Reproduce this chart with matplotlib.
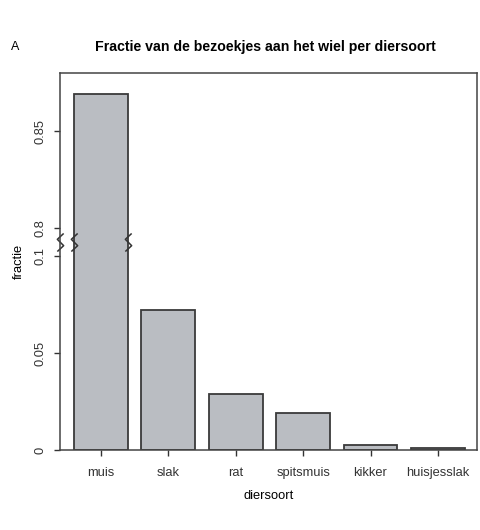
import matplotlib.pyplot as plt
import numpy as np
from matplotlib.path import Path

plt.rcParams['font.family'] = ['Liberation Sans', 'DejaVu Sans']

# data
diersoort = ['muis', 'slak', 'rat', 'spitsmuis', 'kikker', 'huisjesslak']
fractie = [0.869, 0.072, 0.029, 0.019, 0.0024, 0.0012]
yticks = [0, 0.05, 0.1, 0.8, 0.85]
yticklabels = ['0', '0.05', '0.1', '0.8', '0.85']

# broken y axis: 0.1 .. 0.8 squeezed into a small gap
LOW, HIGH, GAP = 0.1, 0.8, 0.0144


def fwd(y):
    y = np.asarray(y, dtype=float)
    mid = LOW + (y - LOW) / (HIGH - LOW) * GAP
    return np.where(y <= LOW, y, np.where(y < HIGH, mid, y - (HIGH - LOW) + GAP))


def inv(t):
    t = np.asarray(t, dtype=float)
    mid = LOW + (t - LOW) / GAP * (HIGH - LOW)
    return np.where(t <= LOW, t, np.where(t < LOW + GAP, mid, t + (HIGH - LOW) - GAP))


fig = plt.figure(figsize=(4.8, 5.3), dpi=100)
ax = fig.add_axes([60 / 480, 1 - 450 / 530, 417 / 480, 377 / 530])
ax.set_yscale('function', functions=(fwd, inv))

x = np.arange(len(diersoort))
ax.bar(x, fractie, width=0.8, color='#babdc2', edgecolor='#3a3a3a', linewidth=1.3)

ax.set_xlim(-0.608, 5.58)
ax.set_ylim(0, 0.88)
ax.set_yticks(yticks)
ax.set_yticklabels(yticklabels, rotation=90, va='center', fontsize=9.3)
ax.set_xticks(x)
ax.set_xticklabels(diersoort, fontsize=9.3)
ax.tick_params(direction='out', length=4, width=1, colors='#333333', pad=6)
ax.tick_params(axis='x', pad=8)

for s in ax.spines.values():
    s.set_color('#444444')
    s.set_linewidth(1.1)

# zigzag break marks
zig = Path([(-0.35, -1), (0.35, -0.35), (-0.35, 0.35), (0.35, 1)])
ybreak = 0.45
ax.plot([0], [ybreak], marker=zig, markersize=13, color='#333333',
        markerfacecolor='none', mew=1.1, transform=ax.get_yaxis_transform(), clip_on=False)
ax.plot([x[0] - 0.4, x[0] + 0.4], [ybreak, ybreak], ls='none', marker=zig, markersize=13,
        color='#333333', markerfacecolor='none', mew=1.1, clip_on=False)

ax.set_xlabel('diersoort', fontsize=9.3, labelpad=8)
ax.set_ylabel('fractie', fontsize=9.3, labelpad=7)
fig.text(265 / 480, 1 - 47 / 530, 'Fractie van de bezoekjes aan het wiel per diersoort',
         ha='center', va='center', fontsize=10.2, fontweight='bold')
fig.text(15 / 480, 1 - 47 / 530, 'A', ha='center', va='center', fontsize=9)

fig.savefig('out.png', dpi=100)
